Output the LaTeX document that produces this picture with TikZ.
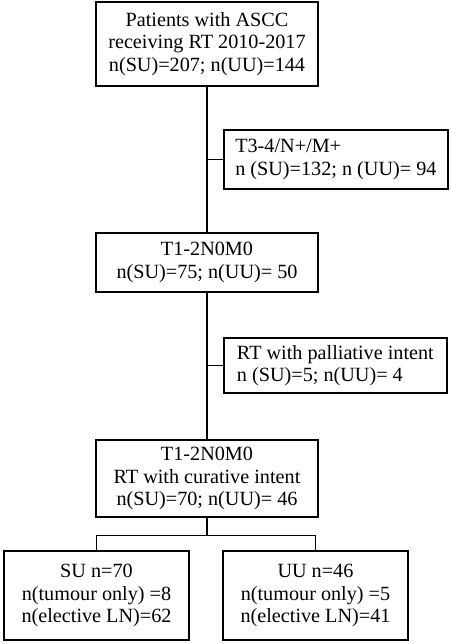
\documentclass[tikz,border=0pt]{standalone}
\usepackage{fontspec}
\setmainfont{Liberation Serif}
\usepackage{tikz}
\usetikzlibrary{positioning, calc}

\begin{document}
\begin{tikzpicture}
    [x=1pt, y=-1pt,
      box/.style={draw, line width=1.8pt, align=center, inner sep=0pt,
        font=\fontsize{20.2}{22.5}\selectfont},
      sidebox/.style={box, align=left, inner xsep=10pt},
      link/.style={line width=1.1pt}]

    \useasboundingbox (0,0) rectangle (450,644);

    % main column
    \node[box, minimum width=222pt, minimum height=84pt] at (207,44)
    (start) {Patients with ASCC \\ receiving RT 2010-2017 \\ n(SU)=207; n(UU)=144};
    \node[box, minimum width=222pt, minimum height=59pt] at (207,262.5)
    (early) {T1-2N0M0 \\ n(SU)=75; n(UU)= 50};
    \node[box, minimum width=222pt, minimum height=77pt] at (207,478.5)
    (cur) {T1-2N0M0 \\ RT with curative intent \\ n(SU)=70; n(UU)= 46};

    % exclusions
    \node[sidebox, minimum width=224pt, minimum height=59pt, anchor=west] at (223,159.5)
    (adv) {T3-4/N+/M+ \\ n (SU)=132; n (UU)= 94};
    \node[sidebox, minimum width=223pt, minimum height=55pt, anchor=west] at (223,365.5)
    (pall) {RT with palliative intent \\ n (SU)=5; n(UU)= 4};

    % split by centre
    \node[box, minimum width=185pt, minimum height=89pt] at (96.5,595.5)
    (SU) {SU n=70 \\ n(tumour only) =8 \\ n(elective LN)=62};
    \node[box, minimum width=185pt, minimum height=89pt] at (315.5,595.5)
    (UU) {UU n=46 \\ n(tumour only) =5 \\ n(elective LN)=41};

    \draw[link] (start) -- (early);
    \draw[link] (early) -- (cur);
    \draw[link] (adv.west) -- (adv.west -| start.south);
    \draw[link] (pall.west) -- (pall.west -| early.south);
    \coordinate (split) at ($(cur.south)+(0,18)$);
    \draw[link] (cur.south) -- (split);
    \draw[link] (SU.north) |- (split) -| (UU.north);
  \end{tikzpicture}
\end{document}
